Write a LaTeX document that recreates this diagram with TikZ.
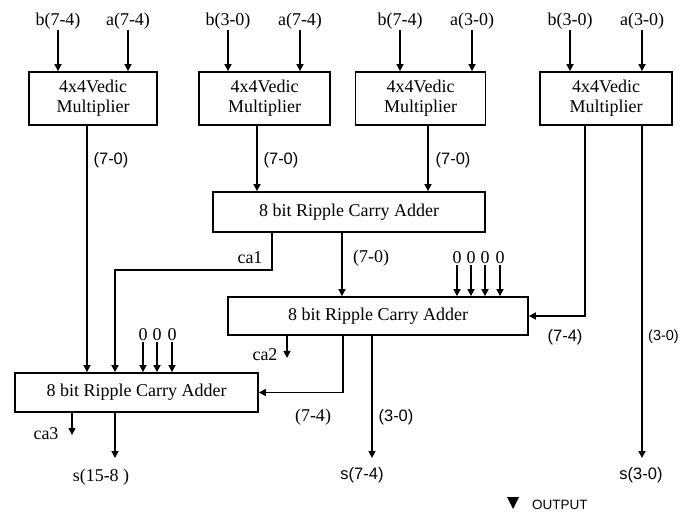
\documentclass[tikz,border=0pt]{standalone}
\usepackage{fontspec}
\setmainfont{Liberation Serif}
\newfontfamily\sansf{Liberation Sans}
\usetikzlibrary{arrows.meta}
\tikzset{
  blk/.style={draw, line width=1.8pt, inner sep=0pt, align=center, font=\fontsize{18}{20}\selectfont},
  arr/.style={line width=1.6pt, -{Triangle[width=7pt,length=7pt]}},
  lbl/.style={inner sep=1pt, font=\fontsize{18}{20}\selectfont},
  slbl/.style={inner sep=1pt, font=\sansf\fontsize{16.5}{19}\selectfont},
}
\begin{document}
\begin{tikzpicture}[x=1pt,y=-1pt]
\useasboundingbox (0,0) rectangle (680,518);
% multipliers
\node[blk, minimum width=128pt, minimum height=53pt] (m1) at (93,98.5) {4x4Vedic\\Multiplier};
\node[blk, minimum width=131pt, minimum height=53pt] (m2) at (264.5,98.5) {4x4Vedic\\Multiplier};
\node[blk, minimum width=130pt, minimum height=53pt] (m3) at (420.5,98.5) {4x4Vedic\\Multiplier};
\node[blk, minimum width=132pt, minimum height=53pt] (m4) at (606,98.5) {4x4Vedic\\Multiplier};
% adders
\node[blk, minimum width=272pt, minimum height=40pt] (r1) at (349,212) {8 bit Ripple Carry Adder};
\node[blk, minimum width=300pt, minimum height=38pt] (r2) at (378,316) {8 bit Ripple Carry Adder};
\node[blk, minimum width=243pt, minimum height=39pt] (r3) at (136.5,392.5) {8 bit Ripple Carry Adder};
% inputs
\node[lbl] (lb1) at (58,21) {b(7-4)};
\node[lbl] (la1) at (128,21) {a(7-4)};
\node[lbl] (lb2) at (228,21) {b(3-0)};
\node[lbl] (la2) at (300,21) {a(7-4)};
\node[lbl] (lb3) at (400,21) {b(7-4)};
\node[lbl] (la3) at (472,21) {a(3-0)};
\node[lbl] (lb4) at (570,21) {b(3-0)};
\node[lbl] (la4) at (642,21) {a(3-0)};
\foreach \n/\m in {lb1/m1,la1/m1,lb2/m2,la2/m2,lb3/m3,la3/m3,lb4/m4,la4/m4}
  \draw[arr] (\n.south) -- (\n.south |- \m.north);
% multiplier outputs
\draw[arr] ([xshift=-6pt]m1.south) -- ([xshift=-6pt]m1.south |- r3.north);
\node[slbl] (o1) at (111,160) {(7-0)};
\draw[arr] ([xshift=-7.5pt]m2.south) -- ([xshift=-7.5pt]m2.south |- r1.north);
\node[slbl] (o2) at (281,160) {(7-0)};
\draw[arr] ([xshift=7.5pt]m3.south) -- ([xshift=7.5pt]m3.south |- r1.north);
\node[slbl] (o3) at (453,160) {(7-0)};
\draw[arr] ([xshift=-21pt]m4.south) |- (r2.east);
\node[slbl] (o4) at (565,337) {(7-4)};
\node[slbl, anchor=east, font=\sansf\fontsize{14.5}{17}\selectfont] (o5) at (680,337) {(3-0)};
\node[slbl] (s30) at (641,475) {s(3-0)};
\coordinate (s30e) at (642,458);
\draw[arr] (s30e |- m4.south) -- (s30e);
% r1 outputs
\coordinate (k1) at (115,270);
\draw[arr] ([xshift=-77pt]r1.south) |- (k1) -- (k1 |- r3.north);
\node[lbl] (c1) at (250,258) {ca1};
\draw[arr] ([xshift=-7pt]r1.south) -- ([xshift=-7pt]r1.south |- r2.north);
\node[lbl] (o6) at (371,258) {(7-0)};
% zeros into r2
\foreach \i/\x in {1/457,2/471,3/485,4/500} {
  \node[lbl] (za\i) at (\x,258) {0};
  \draw[arr] (za\i.south) -- (za\i.south |- r2.north);
}
% r2 outputs
\coordinate (ca2e) at (287,358);
\draw[arr] (ca2e |- r2.south) -- (ca2e);
\node[lbl] (c2) at (265,355) {ca2};
\draw[arr] ([xshift=-35pt]r2.south) |- (r3.east);
\node[lbl] (o7) at (313,417) {(7-4)};
\node[slbl] (s74) at (362,475) {s(7-4)};
\coordinate (s74e) at (372,458);
\draw[arr] (s74e |- r2.south) -- (s74e);
\node[slbl] (o8) at (396,417) {(3-0)};
% zeros into r3
\foreach \i/\x in {1/143,2/157,3/172} {
  \node[lbl] (zb\i) at (\x,335) {0};
  \draw[arr] (zb\i.south) -- (zb\i.south |- r3.north);
}
% r3 outputs
\coordinate (ca3e) at (72,435);
\draw[arr] (ca3e |- r3.south) -- (ca3e);
\node[lbl] (c3) at (46,434) {ca3};
\coordinate (s158e) at (115,458);
\draw[arr] (s158e |- r3.south) -- (s158e);
\node[lbl] (s158) at (101,477) {s(15-8 )};
% legend
\fill (507,497) -- (519,497) -- (513,509) -- cycle;
\node[slbl, anchor=west, font=\sansf\fontsize{13.5}{16}\selectfont] (leg) at (531,505) {OUTPUT};
\end{tikzpicture}
\end{document}
